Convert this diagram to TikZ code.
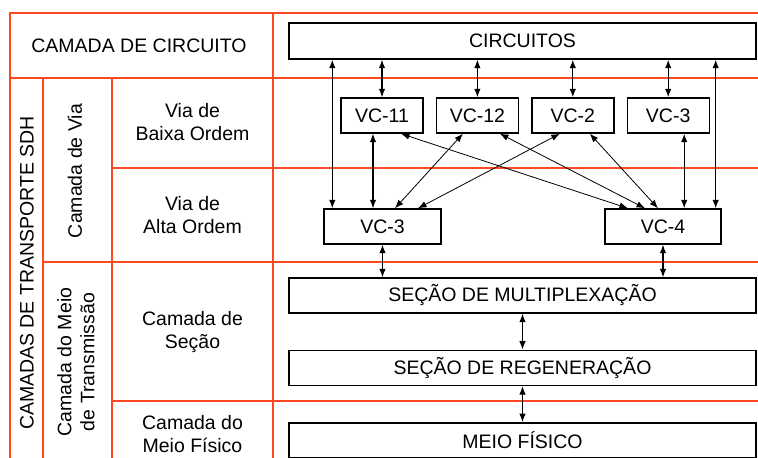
\documentclass[tikz,border=0pt]{standalone}
\usepackage{fontspec}
\setmainfont{Liberation Sans}
\usetikzlibrary{arrows.meta,positioning}
\definecolor{grade}{RGB}{255,72,32}

\begin{document}
\begin{tikzpicture}[x=1pt, y=-1pt,
		font=\fontsize{19.5}{23}\selectfont,
		camada/.style={draw, line width=1.4pt, inner sep=0pt, minimum height=35pt},
		vcbox/.style={camada, minimum width=82pt},
		rotulo/.style={align=center, inner sep=0pt},
		grelha/.style={draw=grade, line width=1.5pt},
		liga/.style={line width=1.1pt, {Latex[length=8.5pt,width=6.5pt]}-{Latex[length=8.5pt,width=6.5pt]}},
		diag/.style={liga, line width=.8pt}]
	\useasboundingbox (0,0) rectangle (758,458);

	% linhas da tabela
	\draw[grelha] (10,458) -- (10,13) -- (758,13);
	\draw[grelha] (10,78) -- (758,78);
	\draw[grelha] (43,78) -- (43,458);
	\draw[grelha] (112,78) -- (112,458);
	\draw[grelha] (273,13) -- (273,458);
	\draw[grelha] (112,168) -- (758,168);
	\draw[grelha] (43,262) -- (758,262);
	\draw[grelha] (112,401) -- (758,401);

	% rotulos das camadas
	\node[rotulo] (lcirc) at (139,45.5) {CAMADA DE CIRCUITO};
	\node[rotulo, rotate=90] (lsdh) at (27,273) {CAMADAS DE TRANSPORTE SDH};
	\node[rotulo, rotate=90] (lvia) at (75,171) {Camada de Via};
	\node[rotulo, rotate=90] (lmeio) at (76,362) {Camada do Meio\\de Transmissão};
	\node[rotulo] (lbaixa) at (192.5,122) {Via de\\Baixa Ordem};
	\node[rotulo] (lalta) at (192.5,215) {Via de\\Alta Ordem};
	\node[rotulo] (lsecao) at (192.5,332) {Camada de\\Seção};
	\node[rotulo] (lfisico) at (192.5,434) {Camada do\\Meio Físico};

	% blocos
	\node[camada, minimum width=467pt, minimum height=36pt] (circ) at (522.5,41) {CIRCUITOS};
	\node[vcbox] (vcb11) at (382,115.5) {VC-11};
	\node[vcbox, right=12pt of vcb11] (vcb12) {VC-12};
	\node[vcbox, right=12pt of vcb12] (vcb2) {VC-2};
	\node[vcbox, right=12pt of vcb2] (vcb3) {VC-3};
	\node[camada, minimum width=117pt] (vca3) at (382.5,226.5) {VC-3};
	\node[camada, minimum width=116pt] (vca4) at (663,226.5) {VC-4};
	\node[camada, minimum width=467pt] (mux) at (522.5,295.5) {SEÇÃO DE MULTIPLEXAÇÃO};
	\node[camada, minimum width=467pt, below=36pt of mux] (reg) {SEÇÃO DE REGENERAÇÃO};
	\node[camada, minimum width=467pt, below=36pt of reg] (meio) {MEIO FÍSICO};

	% ligacoes
	\draw[liga] ([xshift=9pt]vca3.north west |- circ.south) -- ([xshift=9pt]vca3.north west);
	\draw[liga] (circ.south -| vcb11.north) -- (vcb11.north);
	\draw[liga] (circ.south -| vcb12.north) -- (vcb12.north);
	\draw[liga] (circ.south -| vcb2.north) -- (vcb2.north);
	\draw[liga] (circ.south -| vcb3.north) -- (vcb3.north);
	\draw[liga] ([xshift=-6pt]vca4.north east |- circ.south) -- ([xshift=-6pt]vca4.north east);
	\draw[liga] ([xshift=-9pt]vcb11.south) -- ([xshift=-9pt]vcb11.south |- vca3.north);
	\draw[liga] ([xshift=16pt]vcb3.south) -- ([xshift=16pt]vcb3.south |- vca4.north);
	\draw[diag] ([xshift=-14.5pt]vcb12.south) -- ([xshift=12.5pt]vca3.north);
	\draw[diag] ([xshift=-13pt]vcb2.south) -- ([xshift=35.5pt]vca3.north);
	\draw[diag] ([xshift=19pt]vcb11.south) -- ([xshift=-35pt]vca4.north);
	\draw[diag] ([xshift=22.5pt]vcb12.south) -- ([xshift=-18pt]vca4.north);
	\draw[diag] ([xshift=17pt]vcb2.south) -- ([xshift=-5pt]vca4.north);
	\draw[liga] (vca3.south) -- (vca3.south |- mux.north);
	\draw[liga] (vca4.south) -- (vca4.south |- mux.north);
	\draw[liga] (mux.south) -- (reg.north);
	\draw[liga] (reg.south) -- (meio.north);
\end{tikzpicture}
\end{document}
